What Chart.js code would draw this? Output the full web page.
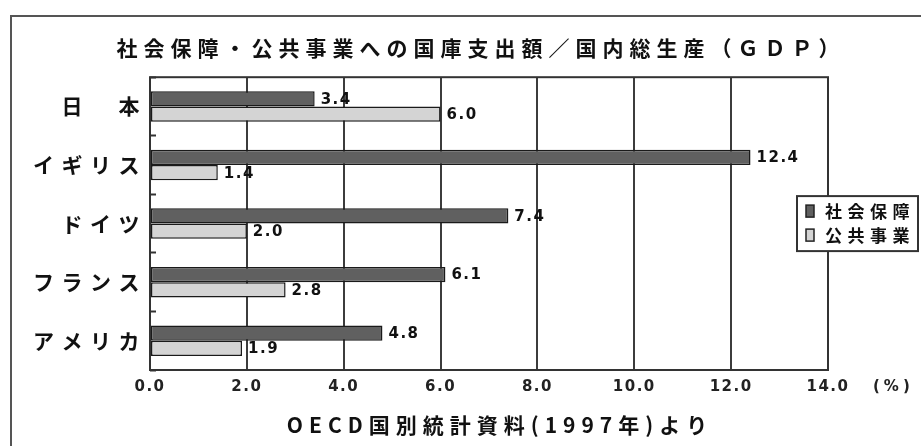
<!DOCTYPE html>
<html>
<head>
<meta charset="utf-8">
<script src="https://cdn.jsdelivr.net/npm/chart.js@4/dist/chart.umd.min.js"></script>
<style>
html,body{margin:0;padding:0;background:#fff;}
#wrap{width:921px;height:446px;position:relative;}
</style>
</head>
<body>
<div id="wrap"><canvas id="c" width="921" height="446"></canvas></div>
<script>
// ---- data ----
const countries = ['日　本', 'イギリス', 'ドイツ', 'フランス', 'アメリカ'];
const seriesNames = ['社会保障', '公共事業'];
const socialSecurity = [3.4, 12.4, 7.4, 6.1, 4.8];
const publicWorks = [6.0, 1.4, 2.0, 2.8, 1.9];
const xMin = 0, xMax = 14, xStep = 2;
const titleText = '社会保障・公共事業への国庫支出額／国内総生産（ＧＤＰ）';
const footerText = 'OECD国別統計資料(1997年)より';
const unitText = '(%)';

const CJK = '"Noto Sans CJK JP", "Noto Sans", sans-serif';
const NUM = '"DejaVu Sans", sans-serif';

function patchSpacing(chart, obj, method, spacing, dxFn) {
  if (!obj || obj['__sp_' + method]) return;
  const orig = obj[method];
  obj[method] = function (...args) {
    const ctx = chart.ctx;
    const prev = ctx.letterSpacing;
    ctx.save();
    ctx.letterSpacing = spacing;
    if (dxFn) ctx.translate(dxFn(this), 0);
    try { return orig.apply(this, args); }
    finally { ctx.restore(); ctx.letterSpacing = prev || '0px'; }
  };
  obj['__sp_' + method] = true;
}

const decor = {
  id: 'decor',
  afterLayout(chart) {
    // title is centred on the page body (not the plot), as in the source figure
    patchSpacing(chart, chart.titleBlock, 'draw', '6px', b => 481 - (b.left + b.right) / 2);
    patchSpacing(chart, chart.scales.y, 'drawLabels', '7.5px');
    patchSpacing(chart, chart.scales.x, 'drawLabels', '1.5px');
    patchSpacing(chart, chart.scales.x, 'drawTitle', '6px', b => 11);
  },
  beforeDraw(chart) {
    const ctx = chart.ctx;
    ctx.save();
    ctx.fillStyle = '#fff';
    ctx.fillRect(0, 0, chart.width, chart.height);
    ctx.strokeStyle = '#555';
    ctx.lineWidth = 2;
    ctx.strokeRect(11, 16, 1000, 1000);
    ctx.restore();
  },
  afterDatasetsDraw(chart) {
    const ctx = chart.ctx;
    const a = chart.chartArea;
    ctx.save();
    ctx.font = 'bold 15px ' + NUM;
    ctx.letterSpacing = '1.5px';
    ctx.fillStyle = '#111';
    ctx.textAlign = 'left';
    ctx.textBaseline = 'middle';
    chart.data.datasets.forEach((ds, di) => {
      chart.getDatasetMeta(di).data.forEach((bar, i) => {
        ctx.fillText(Number(ds.data[i]).toFixed(1), bar.x + 6, bar.y + 1);
      });
    });
    ctx.letterSpacing = '0px';
    ctx.strokeStyle = '#333';
    ctx.lineWidth = 2;
    ctx.strokeRect(a.left, a.top, a.right - a.left, a.bottom - a.top);
    ctx.restore();
  },
  afterDraw(chart) {
    const ctx = chart.ctx;
    const a = chart.chartArea;
    ctx.save();
    // unit label
    ctx.font = 'bold 15px ' + NUM;
    ctx.letterSpacing = '4px';
    ctx.fillStyle = '#222';
    ctx.textAlign = 'left';
    ctx.textBaseline = 'middle';
    ctx.fillText(unitText, a.right + 45, a.bottom + 17);
    // legend
    const bw = 121, bh = 55;
    const bx = a.right - 31;
    const by = (a.top + a.bottom) / 2 - bh / 2;
    ctx.letterSpacing = '0px';
    ctx.fillStyle = '#fff';
    ctx.fillRect(bx, by, bw, bh);
    ctx.strokeStyle = '#333';
    ctx.lineWidth = 2;
    ctx.strokeRect(bx, by, bw, bh);
    ctx.font = 'bold 17px ' + CJK;
    ctx.letterSpacing = '5.5px';
    chart.data.datasets.forEach((ds, i) => {
      const cy = by + 15 + i * 24;
      ctx.fillStyle = ds.backgroundColor;
      ctx.fillRect(bx + 9, cy - 6, 8, 12);
      ctx.strokeStyle = '#222';
      ctx.lineWidth = 1.5;
      ctx.strokeRect(bx + 9, cy - 6, 8, 12);
      ctx.fillStyle = '#111';
      ctx.fillText(ds.label, bx + 28, cy);
    });
    ctx.restore();
  }
};

new Chart(document.getElementById('c'), {
  type: 'bar',
  data: {
    labels: countries,
    datasets: [
      { label: seriesNames[0], data: socialSecurity, backgroundColor: '#606060', borderColor: '#1a1a1a', borderWidth: 1.5, borderSkipped: false },
      { label: seriesNames[1], data: publicWorks, backgroundColor: '#d4d4d4', borderColor: '#1a1a1a', borderWidth: 1.5, borderSkipped: false }
    ]
  },
  options: {
    indexAxis: 'y',
    responsive: false,
    animation: false,
    devicePixelRatio: 1,
    categoryPercentage: 0.52,
    barPercentage: 1.0,
    layout: { padding: { left: 10, right: 93, top: 0, bottom: 0 } },
    plugins: {
      legend: { display: false },
      tooltip: { enabled: false },
      title: {
        display: true, text: titleText, color: '#111',
        font: { family: CJK, size: 21, weight: 'bold' },
        padding: { top: 35, bottom: 17 }
      }
    },
    scales: {
      x: {
        type: 'linear', position: 'bottom', min: xMin, max: xMax,
        ticks: {
          stepSize: xStep, autoSkip: false, maxRotation: 0, padding: 8, color: '#222',
          font: { family: NUM, size: 15, weight: 'bold' },
          callback: v => Number(v).toFixed(1)
        },
        grid: { color: '#3c3c3c', lineWidth: 2, drawTicks: false },
        border: { display: false },
        title: {
          display: true, text: footerText, color: '#111',
          font: { family: CJK, size: 21, weight: 'bold' },
          padding: { top: 0, bottom: 8 }
        },
        afterFit: s => { s.height = 76; }
      },
      y: {
        type: 'category', position: 'left', offset: true,
        ticks: { color: '#111', padding: 9, font: { family: CJK, size: 21, weight: 'bold' } },
        grid: { display: true, offset: true, drawOnChartArea: false, drawTicks: true, tickLength: -6, tickColor: '#333', tickWidth: 2 },
        border: { display: false },
        afterFit: s => { s.width = 140; }
      }
    }
  },
  plugins: [decor]
});
</script>
</body>
</html>
